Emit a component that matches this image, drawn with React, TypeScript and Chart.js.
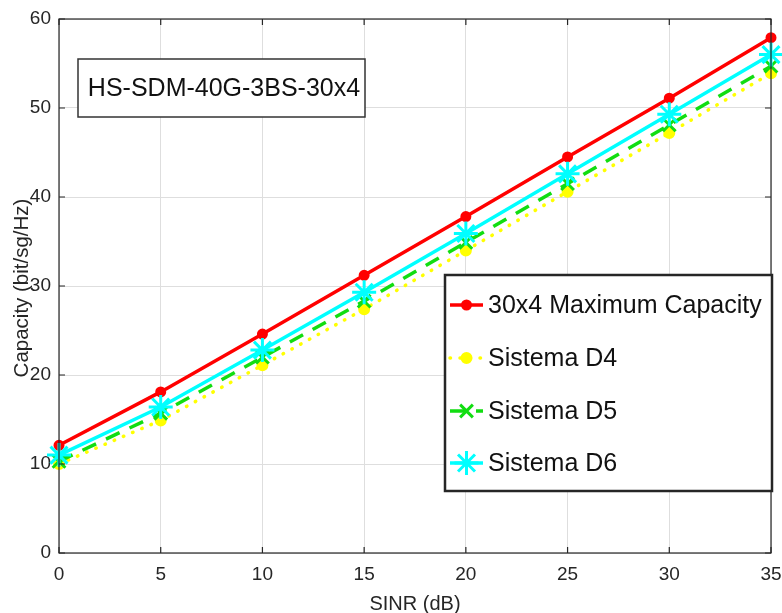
import React, { useEffect, useRef } from "react";
import { Chart, registerables } from "chart.js";

Chart.register(...registerables);

const sinr = [0, 5, 10, 15, 20, 25, 30, 35];
const maxCapacity = [12.1, 18.1, 24.6, 31.2, 37.8, 44.5, 51.1, 57.9];
const sistemaD4 = [10.0, 14.9, 21.1, 27.4, 34.0, 40.6, 47.2, 53.9];
const sistemaD5 = [10.3, 15.7, 22.0, 28.3, 34.9, 41.5, 48.1, 54.7];
const sistemaD6 = [11.0, 16.4, 22.8, 29.3, 35.9, 42.6, 49.3, 56.0];
const seriesNames = ["30x4 Maximum Capacity", "Sistema D4", "Sistema D5", "Sistema D6"];
const annotationText = "HS-SDM-40G-3BS-30x4";
const xTitle = "SINR (dB)";
const yTitle = "Capacity (bit/sg/Hz)";

const FONT = '"Liberation Sans", Arial, Helvetica, sans-serif';

const toPts = (ys: number[]) => ys.map((y, i) => ({ x: sinr[i], y }));

function drawMarker(ctx: CanvasRenderingContext2D, style: string, x: number, y: number, r: number, color: string, lw: number) {
  ctx.save();
  ctx.strokeStyle = color;
  ctx.fillStyle = color;
  ctx.lineWidth = lw;
  ctx.setLineDash([]);
  ctx.beginPath();
  if (style === "circle") {
    ctx.arc(x, y, r, 0, Math.PI * 2);
    ctx.fill();
    ctx.stroke();
  } else {
    const lines = style === "crossRot" ? [Math.PI / 4, (3 * Math.PI) / 4] : [0, Math.PI / 4, Math.PI / 2, (3 * Math.PI) / 4];
    lines.forEach((a) => {
      const dx = Math.cos(a) * r;
      const dy = Math.sin(a) * r;
      ctx.moveTo(x - dx, y - dy);
      ctx.lineTo(x + dx, y + dy);
    });
    ctx.stroke();
  }
  ctx.restore();
}

const overlayPlugin = {
  id: "overlay",
  afterDatasetsDraw(chart: any) {
    const ctx = chart.ctx;
    const { left, right, top, bottom } = chart.chartArea;
    const xs = chart.scales.x;
    const ys = chart.scales.y;
    ctx.save();
    ctx.strokeStyle = "#262626";
    ctx.lineWidth = 1.2;
    ctx.strokeRect(left, top, right - left, bottom - top);
    const tl = 6;
    ctx.beginPath();
    xs.ticks.forEach((t: any) => {
      const px = xs.getPixelForValue(t.value);
      ctx.moveTo(px, bottom);
      ctx.lineTo(px, bottom - tl);
      ctx.moveTo(px, top);
      ctx.lineTo(px, top + tl);
    });
    ys.ticks.forEach((t: any) => {
      const py = ys.getPixelForValue(t.value);
      ctx.moveTo(left, py);
      ctx.lineTo(left + tl, py);
      ctx.moveTo(right, py);
      ctx.lineTo(right - tl, py);
    });
    ctx.stroke();

    // annotation box
    ctx.fillStyle = "#ffffff";
    ctx.fillRect(78, 59, 287, 58);
    ctx.strokeStyle = "#333333";
    ctx.lineWidth = 1.5;
    ctx.strokeRect(78, 59, 287, 58);
    ctx.fillStyle = "#111111";
    ctx.font = `25px ${FONT}`;
    ctx.textAlign = "center";
    ctx.textBaseline = "middle";
    ctx.fillText(annotationText, 224, 89);

    // legend
    const lx = 445, ly = 275, lw = 327, lh = 216;
    ctx.fillStyle = "#ffffff";
    ctx.fillRect(lx, ly, lw, lh);
    ctx.strokeStyle = "#262626";
    ctx.lineWidth = 2.5;
    ctx.strokeRect(lx, ly, lw, lh);
    const rowYs = [305, 358, 411, 463];
    chart.data.datasets.forEach((ds: any, i: number) => {
      const y = rowYs[i];
      ctx.save();
      ctx.strokeStyle = ds.borderColor;
      ctx.lineWidth = ds.borderWidth;
      ctx.lineCap = ds.borderCapStyle || "butt";
      ctx.setLineDash(ds.borderDash || []);
      ctx.beginPath();
      ctx.moveTo(450, y);
      ctx.lineTo(483, y);
      ctx.stroke();
      ctx.restore();
      drawMarker(ctx, ds.pointStyle, 466.5, y, ds.pointRadius, ds.pointBorderColor, ds.pointBorderWidth);
      ctx.fillStyle = "#111111";
      ctx.font = `25px ${FONT}`;
      ctx.textAlign = "left";
      ctx.textBaseline = "middle";
      ctx.fillText(ds.label, 488, y + 1);
    });
    ctx.restore();

    // axis titles
    ctx.save();
    ctx.fillStyle = "#262626";
    ctx.font = `20px ${FONT}`;
    ctx.textAlign = "center";
    ctx.textBaseline = "middle";
    ctx.fillText(xTitle, (left + right) / 2, 604);
    ctx.font = `20.5px ${FONT}`;
    ctx.translate(22, 288);
    ctx.rotate(-Math.PI / 2);
    ctx.fillText(yTitle, 0, 0);
    ctx.restore();
  },
};

export default function App() {
  const ref = useRef<HTMLCanvasElement | null>(null);
  useEffect(() => {
    if (!ref.current) return;
    const mk = (
      label: string,
      data: number[],
      color: string,
      pointStyle: string,
      radius: number,
      dash: number[],
      order: number,
      cap: string
    ) => ({
      label,
      data: toPts(data),
      borderColor: color,
      backgroundColor: color,
      borderWidth: 3.5,
      borderDash: dash,
      borderCapStyle: cap,
      pointStyle,
      pointRadius: radius,
      pointBackgroundColor: color,
      pointBorderColor: color,
      pointBorderWidth: 3,
      tension: 0,
      clip: false,
      order,
    });
    const chart = new Chart(ref.current, {
      type: "line",
      data: {
        datasets: [
          mk(seriesNames[0], maxCapacity, "#ff0000", "circle", 4, [], 4, "butt"),
          mk(seriesNames[1], sistemaD4, "#ffff00", "circle", 4.5, [0.5, 9.5], 3, "round"),
          mk(seriesNames[2], sistemaD5, "#11dd11", "crossRot", 9, [15, 11], 2, "butt"),
          mk(seriesNames[3], sistemaD6, "#00ffff", "star", 12, [], 1, "butt"),
        ] as any,
      },
      options: {
        responsive: false,
        animation: false,
        layout: { autoPadding: false, padding: { left: 0, top: 19, right: 11, bottom: 0 } },
        plugins: { legend: { display: false }, tooltip: { enabled: false } },
        scales: {
          x: {
            type: "linear",
            min: 0,
            max: 35,
            afterFit: (s: any) => {
              s.height = 60;
              s.paddingLeft = 0;
              s.paddingRight = 0;
            },
            ticks: {
              stepSize: 5,
              padding: 10,
              color: "#262626",
              font: { family: FONT, size: 19 },
              maxRotation: 0,
            },
            grid: { color: "#dedede", lineWidth: 1, drawTicks: false },
            border: { display: false },
          },
          y: {
            type: "linear",
            min: 0,
            max: 60,
            afterFit: (s: any) => {
              s.width = 59;
              s.paddingTop = 0;
              s.paddingBottom = 0;
            },
            ticks: {
              stepSize: 10,
              padding: 8,
              color: "#262626",
              font: { family: FONT, size: 19 },
            },
            grid: { color: "#dedede", lineWidth: 1, drawTicks: false },
            border: { display: false },
          },
        },
      },
      plugins: [overlayPlugin],
    } as any);
    return () => chart.destroy();
  }, []);
  return (
    <div style={{ position: "absolute", left: 0, top: 0 }}>
      <canvas ref={ref} width={782} height={613} style={{ display: "block", width: 782, height: 613 }} />
    </div>
  );
}
